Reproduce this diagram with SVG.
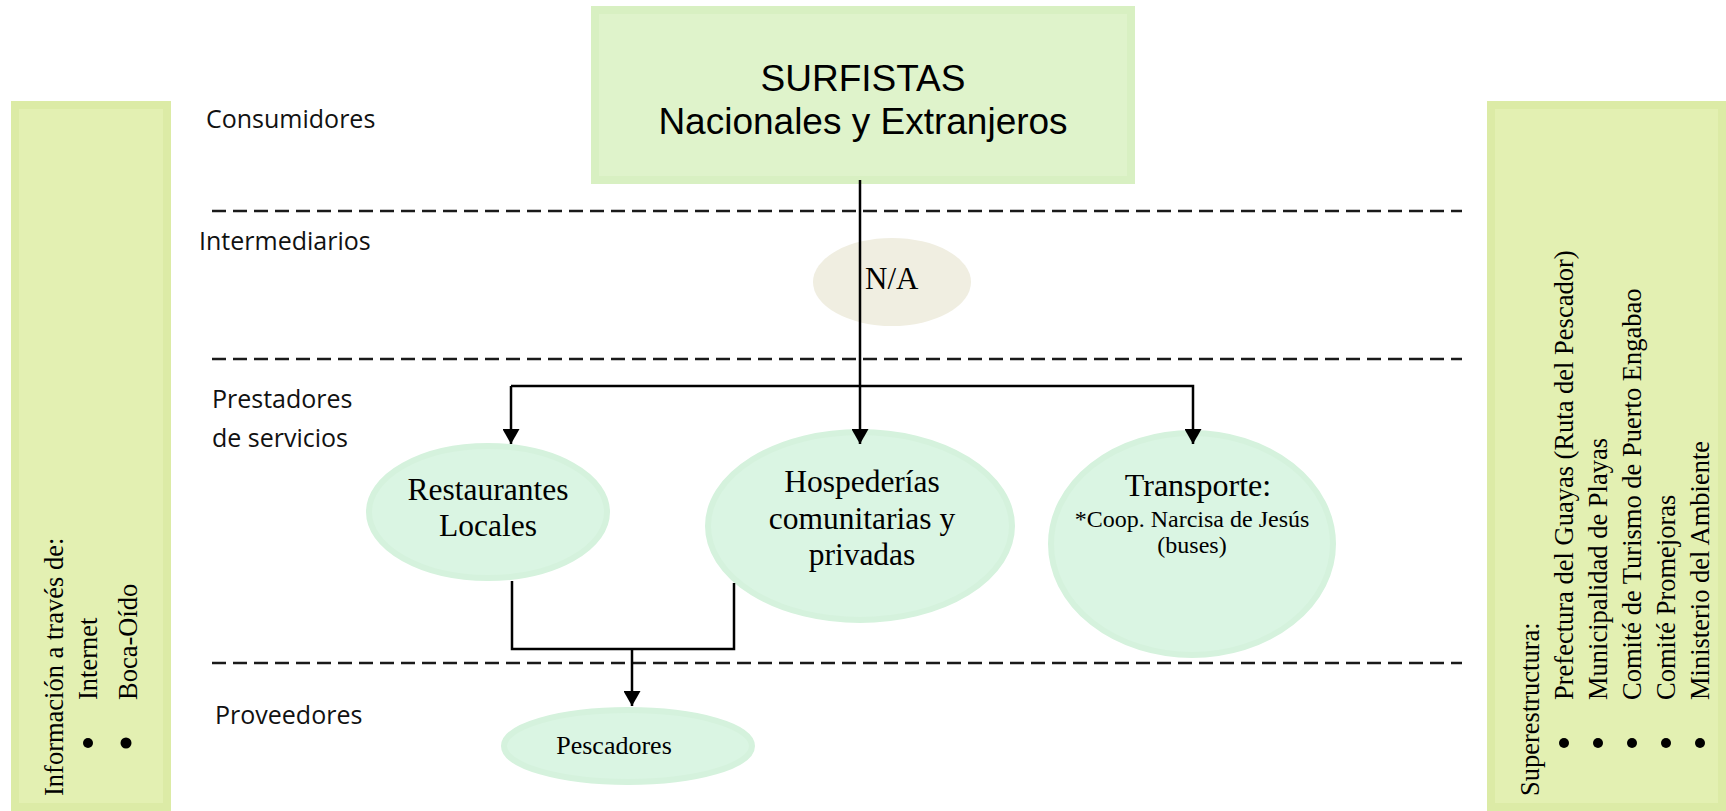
<svg xmlns="http://www.w3.org/2000/svg" width="1726" height="811" viewBox="0 0 1726 811">
<style>
.lbl{font-family:"Open Sans","Noto Sans",sans-serif;font-size:25px;fill:#111}
.tnr{font-family:"Liberation Serif","Times New Roman",serif;fill:#000}
.side{fill:#E3F0B2;stroke:#DCEBA6;stroke-width:8}
.circ{fill:#DAF5E3;stroke:#D5F2DD;stroke-width:6}
.dash{stroke:#1a1a1a;stroke-width:2.3;stroke-dasharray:14 7;fill:none}
.con{stroke:#000;stroke-width:2.5;fill:none}
</style>
<defs>
<marker id="arr" markerUnits="userSpaceOnUse" markerWidth="15" markerHeight="17" refX="15" refY="8.5" orient="auto" viewBox="0 0 15 17">
<path d="M0,0 L15,8.5 L0,17 Z" fill="#000"/>
</marker>
</defs>
<rect width="1726" height="811" fill="#fff"/>

<g id="dividers">
<line class="dash" x1="212" y1="211" x2="1462" y2="211"/>
<line class="dash" x1="212" y1="359" x2="1462" y2="359"/>
<line class="dash" x1="212" y1="663" x2="1462" y2="663"/>
</g>

<g id="level-labels">
<text class="lbl" x="206" y="128">Consumidores</text>
<text class="lbl" x="199" y="250">Intermediarios</text>
<text class="lbl" x="212" y="408">Prestadores</text>
<text class="lbl" x="212" y="447">de servicios</text>
<text class="lbl" x="215" y="724">Proveedores</text>
</g>

<g id="info-box">
<rect class="side" x="15" y="105" width="152" height="702"/>
<text class="tnr" font-size="26.5" transform="translate(63,796) rotate(-90)">Información a través de:</text>
<circle cx="88" cy="743" r="5"/>
<circle cx="126" cy="743" r="5.5"/>
<text class="tnr" font-size="26.5" transform="translate(97,700) rotate(-90)">Internet</text>
<text class="tnr" font-size="26.5" transform="translate(137,700) rotate(-90)">Boca-Oído</text>
</g>

<g id="superestructura-box">
<rect class="side" x="1491" y="105" width="231" height="702"/>
<text class="tnr" font-size="26.5" transform="translate(1539,796) rotate(-90)">Superestructura:</text>
<circle cx="1564" cy="743" r="5"/>
<circle cx="1598" cy="743" r="5"/>
<circle cx="1632" cy="743" r="5"/>
<circle cx="1666" cy="743" r="5"/>
<circle cx="1700" cy="743" r="5"/>
<text class="tnr" font-size="26.5" transform="translate(1573,700) rotate(-90)">Prefectura del Guayas (Ruta del Pescador)</text>
<text class="tnr" font-size="26.5" transform="translate(1607,700) rotate(-90)">Municipalidad de Playas</text>
<text class="tnr" font-size="26.5" transform="translate(1641,700) rotate(-90)">Comité de Turismo de Puerto Engabao</text>
<text class="tnr" font-size="26.5" transform="translate(1675,700) rotate(-90)">Comité Promejoras</text>
<text class="tnr" font-size="26.5" transform="translate(1709,700) rotate(-90)">Ministerio del Ambiente</text>
</g>

<g id="surfistas">
<rect x="595" y="10" width="536" height="170" fill="#DFF3CB" stroke="#D8F0C2" stroke-width="8"/>
<text x="863" y="91" text-anchor="middle" font-family="'Liberation Sans',Arial,sans-serif" font-size="37">SURFISTAS</text>
<text x="863" y="134" text-anchor="middle" font-family="'Liberation Sans',Arial,sans-serif" font-size="37">Nacionales y Extranjeros</text>
</g>

<g id="na">
<ellipse cx="892" cy="282" rx="79" ry="44" fill="#F0EEE1"/>
<text class="tnr" x="865" y="289" font-size="31">N/A</text>
</g>

<g id="restaurantes">
<ellipse class="circ" cx="488" cy="512" rx="119" ry="66"/>
<text class="tnr" x="488" y="500" font-size="31.5" text-anchor="middle">Restaurantes</text>
<text class="tnr" x="488" y="536" font-size="31.5" text-anchor="middle">Locales</text>
</g>

<g id="hospederias">
<ellipse class="circ" cx="860" cy="526" rx="152" ry="94"/>
<text class="tnr" x="862" y="492" font-size="31.5" text-anchor="middle">Hospederías</text>
<text class="tnr" x="862" y="529" font-size="31.5" text-anchor="middle">comunitarias y</text>
<text class="tnr" x="862" y="565" font-size="31.5" text-anchor="middle">privadas</text>
</g>

<g id="transporte">
<ellipse class="circ" cx="1192" cy="544" rx="141" ry="111"/>
<text class="tnr" x="1198" y="496" font-size="32" text-anchor="middle">Transporte:</text>
<text class="tnr" x="1192" y="527" font-size="24" text-anchor="middle">*Coop. Narcisa de Jesús</text>
<text class="tnr" x="1192" y="553" font-size="24" text-anchor="middle">(buses)</text>
</g>

<g id="pescadores">
<ellipse class="circ" cx="628" cy="746" rx="124" ry="36"/>
<text class="tnr" x="614" y="754" font-size="26" text-anchor="middle">Pescadores</text>
</g>

<g id="connectors">
<line class="con" x1="860" y1="180" x2="860" y2="444" marker-end="url(#arr)"/>
<polyline class="con" points="511,386 1193,386 1193,444" marker-end="url(#arr)"/>
<line class="con" x1="511" y1="386" x2="511" y2="444" marker-end="url(#arr)"/>
<polyline class="con" points="512,581 512,649 734,649 734,583"/>
<line class="con" x1="632" y1="649" x2="632" y2="706" marker-end="url(#arr)"/>
</g>
</svg>
